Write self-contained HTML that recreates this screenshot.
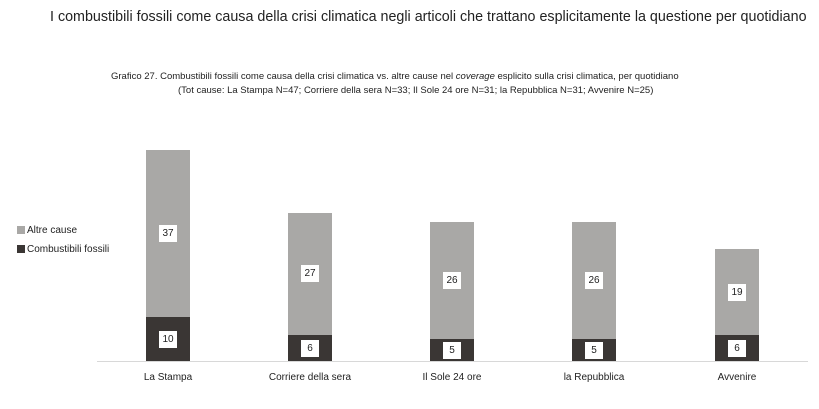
<!DOCTYPE html>
<html><head><style>
body{margin:0;width:819px;height:409px;background:#fff;font-family:"Liberation Sans",sans-serif;position:relative;overflow:hidden}
.t{position:absolute;left:50px;width:756px;text-align:center;top:9px;font-size:14.3px;color:#222;white-space:nowrap}
.s{position:absolute;font-size:9.5px;color:#222;white-space:nowrap}
.bar{position:absolute;width:44px}
.l{position:absolute;background:#fff;width:18px;height:17px;font-size:10px;line-height:17px;text-align:center;color:#222}
.x{position:absolute;top:372px;width:140px;text-align:center;font-size:10px;color:#222}
.lg{position:absolute;left:17px;font-size:10px;color:#222}
.lg i{display:inline-block;width:8px;height:8px;margin-right:2px;vertical-align:-1px}
</style></head><body>
<div class="t">I combustibili fossili come causa della crisi climatica negli articoli che trattano esplicitamente la questione per quotidiano</div>
<div class="s" style="left:111px;top:71px">Grafico 27. Combustibili fossili come causa della crisi climatica vs. altre cause nel <i>coverage</i> esplicito sulla crisi climatica, per quotidiano</div>
<div class="s" style="left:178px;top:85px">(Tot cause: La Stampa N=47; Corriere della sera N=33; Il Sole 24 ore N=31; la Repubblica N=31; Avvenire N=25)</div>
<div class="lg" style="top:225px"><i style="background:#a9a8a6"></i>Altre cause</div>
<div class="lg" style="top:244px"><i style="background:#3a3634"></i>Combustibili fossili</div>
<div style="position:absolute;left:97px;top:361px;width:711px;height:1px;background:#d8d8d8"></div>
<div class="bar" style="left:146px;top:150px;height:167px;background:#a9a8a6"></div>
<div class="bar" style="left:146px;top:317px;height:44px;background:#3a3634"></div>
<div class="l" style="left:159px;top:225px">37</div><div class="l" style="left:159px;top:331px">10</div>
<div class="bar" style="left:288px;top:213px;height:122px;background:#a9a8a6"></div>
<div class="bar" style="left:288px;top:335px;height:26px;background:#3a3634"></div>
<div class="l" style="left:301px;top:265px">27</div><div class="l" style="left:301px;top:340px">6</div>
<div class="bar" style="left:430px;top:222px;height:117px;background:#a9a8a6"></div>
<div class="bar" style="left:430px;top:339px;height:22px;background:#3a3634"></div>
<div class="l" style="left:443px;top:272px">26</div><div class="l" style="left:443px;top:342px">5</div>
<div class="bar" style="left:572px;top:222px;height:117px;background:#a9a8a6"></div>
<div class="bar" style="left:572px;top:339px;height:22px;background:#3a3634"></div>
<div class="l" style="left:585px;top:272px">26</div><div class="l" style="left:585px;top:342px">5</div>
<div class="bar" style="left:715px;top:249px;height:86px;background:#a9a8a6"></div>
<div class="bar" style="left:715px;top:335px;height:26px;background:#3a3634"></div>
<div class="l" style="left:728px;top:284px">19</div><div class="l" style="left:728px;top:340px">6</div>
<div class="x" style="left:98px">La Stampa</div>
<div class="x" style="left:240px">Corriere della sera</div>
<div class="x" style="left:382px">Il Sole 24 ore</div>
<div class="x" style="left:524px">la Repubblica</div>
<div class="x" style="left:667px">Avvenire</div>
</body></html>
